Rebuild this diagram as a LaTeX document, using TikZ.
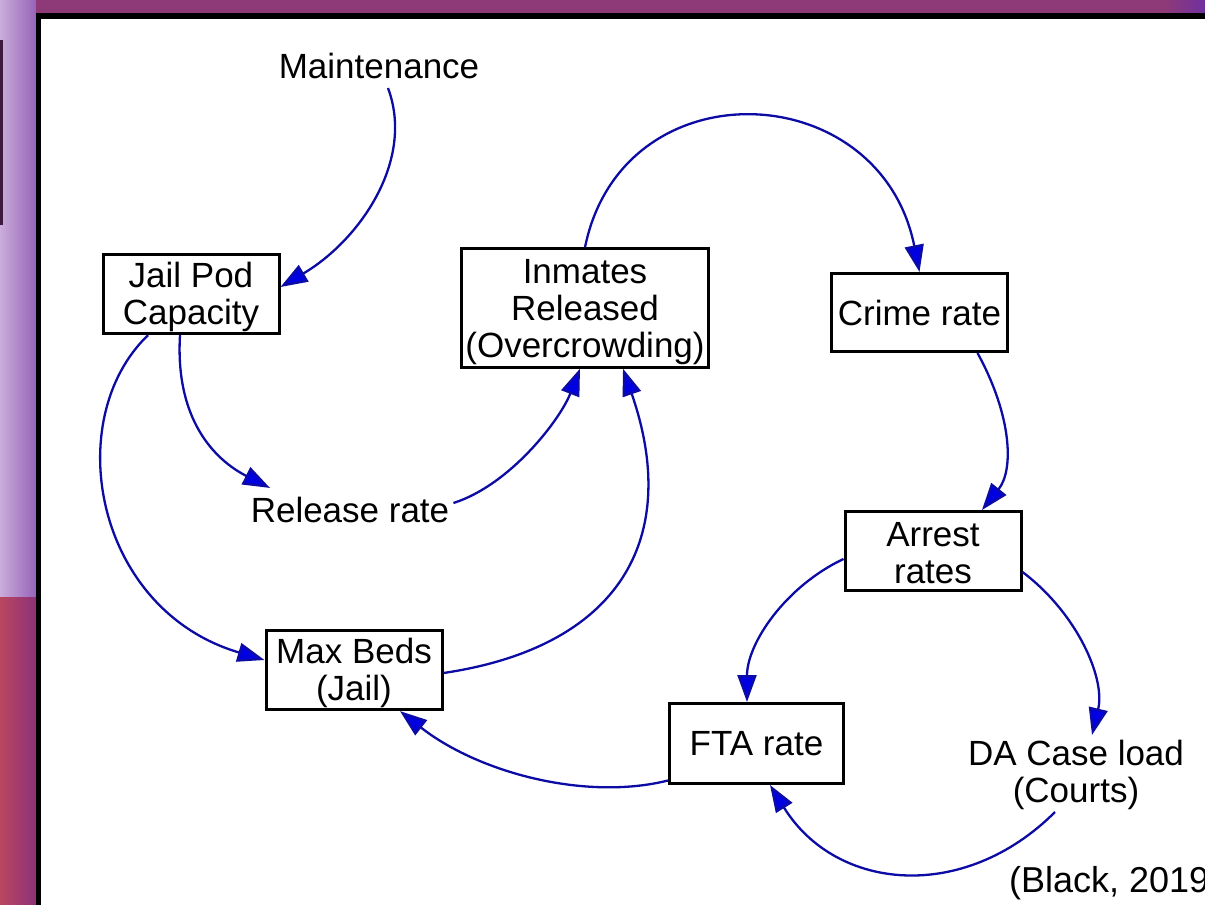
\documentclass[tikz,border=0pt]{standalone}
\usepackage{fontspec}
\setmainfont{Liberation Sans}
\usetikzlibrary{arrows.meta}
\definecolor{linkblue}{RGB}{12,12,165}
\definecolor{tipblue}{RGB}{0,0,225}
\definecolor{slidetop}{RGB}{142,58,120}
\definecolor{slideviolet}{RGB}{112,48,160}
\definecolor{sidelight}{RGB}{202,172,218}
\definecolor{sidemid}{RGB}{150,100,185}
\definecolor{sidered}{RGB}{186,70,95}
\definecolor{sideplum}{RGB}{140,50,120}
\definecolor{sidedark}{RGB}{60,25,62}
\newcommand{\toprule}[1][31pt]{\rule{0pt}{#1}}

\begin{document}
\begin{tikzpicture}[x=1pt,y=-1pt,font=\fontsize{35}{37}\selectfont]
    \tikzstyle{varbox} = [draw, line width=3pt, rectangle, align=center, inner sep=2pt, minimum width=176pt, minimum height=79pt]
    \tikzstyle{vartext} = [align=center, inner sep=0pt]
    \tikzstyle{link} = [linkblue, line width=2.3pt, -{Triangle[length=27pt,width=19pt,fill=tipblue]}]

    % 背景
    \useasboundingbox (0,0) rectangle (1205,905);
    \shade[left color=sidelight, right color=sidemid] (0,0) rectangle (36,597);
    \shade[left color=sidered, right color=sideplum] (0,597) rectangle (36,905);
    \fill[sidedark] (0,40) rectangle (3,225);
    \fill[slidetop] (36,0) rectangle (1205,13);
    \shade[left color=slidetop, right color=slideviolet] (1165,0) rectangle (1205,13);
    \fill[white] (36,13) rectangle (1205,905);
    \draw[line width=5.5pt] (38.5,905) -- (38.5,16) -- (1205,16);

    % 定义变量
    \node[varbox] (jailpod) at (191,294) {\toprule Jail Pod\\Capacity};
    \node[varbox, minimum width=247pt, minimum height=110pt] (inmates) at (585,308) {\toprule[33pt]Inmates\\Released\\(Overcrowding)};
    \node[varbox, minimum height=78pt] (crime) at (919.5,312.5) {Crime rate};
    \node[varbox] (arrest) at (933,551) {\toprule[29pt]Arrest\\rates};
    \node[varbox] (maxbeds) at (354,670) {\toprule Max Beds\\(Jail)};
    \node[varbox, minimum width=174pt, minimum height=80pt] (fta) at (756.5,743.5) {FTA rate};
    \node[vartext] (maint) at (379,66) {Maintenance};
    \node[vartext] (release) at (350,510) {Release rate};
    \node[vartext] (dacase) at (1076,775) {DA Case load\\(Courts)};
    \node[vartext, anchor=west, font=\fontsize{36}{38}\selectfont] (cite) at (1009,883) {(Black, 2019)};

    % 绘制连接
    \draw[link] ([xshift=9pt,yshift=-9pt]maint.south) .. controls (415,160) and (360,240) .. ([yshift=7pt]jailpod.east);
    \draw[link] ([xshift=-11pt]jailpod.south) .. controls (175,420) and (215,460) .. ([xshift=-80pt,yshift=9pt]release.north);
    \draw[link] ([xshift=-43pt]jailpod.south) .. controls (60,420) and (95,610) .. ([yshift=10pt]maxbeds.west);
    \draw[link] ([xshift=4pt,yshift=7pt]release.east) .. controls (510,485) and (560,420) .. ([xshift=-5pt]inmates.south);
    \draw[link] ([yshift=-3pt]maxbeds.east) .. controls (619,647) and (682,539) .. ([xshift=38pt]inmates.south);
    \draw[link] (inmates.north) .. controls (622,65) and (880,75) .. (crime.north);
    \draw[link] ([xshift=58pt]crime.south) .. controls (1012,416) and (1014,470) .. ([xshift=49pt]arrest.north);
    \draw[link] ([yshift=-8pt]arrest.west) .. controls (786,586) and (747,643) .. ([xshift=-9.5pt]fta.north);
    \draw[link] ([yshift=-21pt]arrest.east) .. controls (1077.5,613.6) and (1105.5,678.6) .. ([xshift=16pt,yshift=5pt]dacase.north);
    \draw[link] ([xshift=-21pt,yshift=-2pt]dacase.south) .. controls (964,903) and (836,891.5) .. ([xshift=13.5pt]fta.south);
    \draw[link] ([yshift=-37pt]fta.west) .. controls (586,801) and (479,773) .. ([xshift=46pt]maxbeds.south);
\end{tikzpicture}
\end{document}
